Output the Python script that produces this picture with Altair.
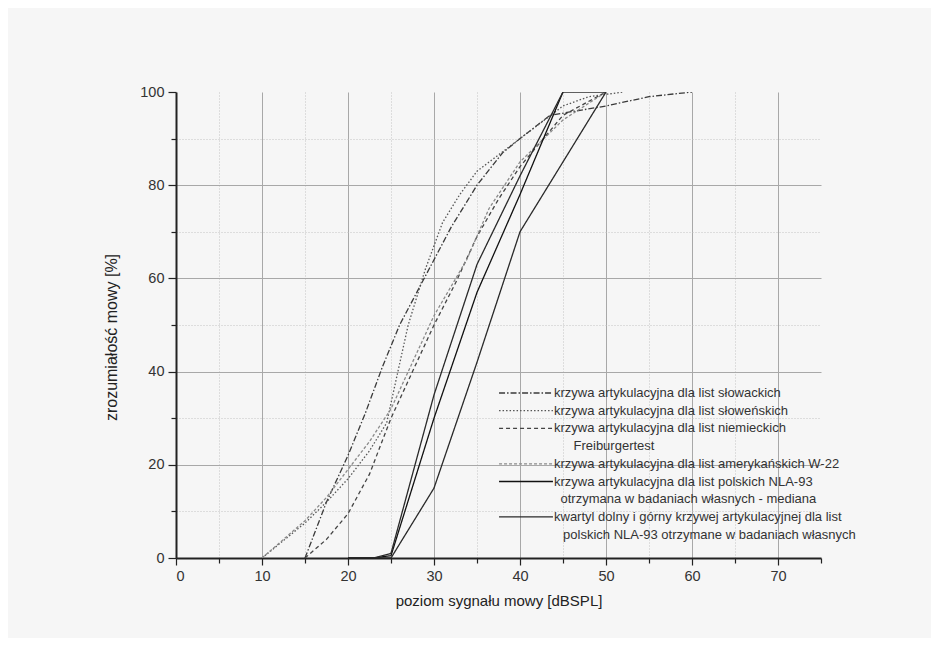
import altair as alt
import pandas as pd

# ---- data ----
legend_entries = [
    "krzywa artykulacyjna dla list słowackich",
    "krzywa artykulacyjna dla list słoweńskich",
    "krzywa artykulacyjna dla list niemieckich",
    "\u200b\u2003\u2002Freiburgertest",
    "krzywa artykulacyjna dla list amerykańskich W-22",
    "krzywa artykulacyjna dla list polskich NLA-93",
    "\u200b\u2002otrzymana w badaniach własnych - mediana",
    "kwartyl dolny i górny krzywej artykulacyjnej dla list",
    "\u200b\u2002\u2009polskich NLA-93 otrzymane w badaniach własnych",
]
# index of the legend entry that names each drawn series
series_entry = [0, 1, 2, 4, 5, 7]

slk_x = [15, 17.5, 20, 22, 24, 26, 28, 30, 32, 35, 38, 40, 43.5, 50, 55, 60]
slk_y = [0, 12, 22, 31, 41, 50, 57, 64, 71, 80, 87, 90, 95, 97, 99, 100]

svn_x = [10, 15, 17.5, 20, 22.5, 24.5, 25.8, 27, 29, 31, 33, 35, 40, 45, 48, 52]
svn_y = [0, 7.5, 12, 17, 23, 29, 40, 50, 62, 72, 78, 83, 90, 97, 99, 100]

ger_x = [15, 17.5, 20, 22.5, 25, 27.5, 30, 32.5, 35, 37.5, 40, 45, 50]
ger_y = [0, 4, 9.5, 18, 30, 40, 50, 59, 69, 77, 84, 95, 100]

usa_x = [10, 12.5, 15, 17.5, 20, 22.5, 25, 27.5, 30, 33.8, 36.4, 40, 45, 50]
usa_y = [0, 4, 8, 13, 19, 25, 32, 42, 52, 64, 75, 85, 94, 100]

pl_med_x = [20, 23, 25, 30, 35, 40, 45]
pl_med_y = [0, 0, 0.5, 30, 57, 78, 100]

pl_up_x = [20, 23, 25, 30, 35, 40, 45, 50]
pl_up_y = [0, 0, 1, 35, 63, 82, 100, 100]

pl_low_x = [20, 23, 25, 30, 35, 40, 45, 50]
pl_low_y = [0, 0, 0, 15, 42, 70, 85, 100]

x_ticks = list(range(0, 80, 5))
y_ticks = list(range(0, 110, 10))

# ---- table ----
rows = []
def add(xs, ys, s, part):
    for i, (a, b) in enumerate(zip(xs, ys)):
        rows.append({"x": a, "y": b, "series": legend_entries[series_entry[s]], "part": part, "i": i})

add(slk_x, slk_y, 0, "a")
add(svn_x, svn_y, 1, "b")
add(ger_x, ger_y, 2, "c")
add(usa_x, usa_y, 3, "d")
add(pl_med_x, pl_med_y, 4, "e")
add(pl_up_x, pl_up_y, 5, "f")
add(pl_low_x, pl_low_y, 5, "g")
df = pd.DataFrame(rows)

FONT = "Liberation Sans"

x_axis = alt.Axis(
    values=x_ticks,
    title="poziom sygnału mowy [dBSPL]",
    labelExpr="datum.value % 10 == 0 ? datum.label : ''",
    grid=True,
    gridColor={"condition": {"test": "datum.value % 10 != 0", "value": "#c4c4c4"}, "value": "#a8a8a8"},
    gridDash={"condition": {"test": "datum.value % 10 != 0", "value": [1, 2]}, "value": []},
    gridWidth=1,
    gridOpacity={"condition": {"test": "datum.value == 0 || datum.value == 75", "value": 0}, "value": 1},
    tickSize={"condition": {"test": "datum.value % 10 != 0", "value": 5}, "value": 7},
    tickColor="#222",
    tickWidth=1.2,
    domainColor="#222",
    domainWidth=1.8,
    labelFontSize=14.5,
    labelColor="#333",
    labelPadding=4,
    titleFontSize=15,
    titleFontWeight="normal",
    titleColor="#222",
    titlePadding=11,
    labelFont=FONT,
    titleFont=FONT,
)

y_axis = alt.Axis(
    values=y_ticks,
    title="zrozumiałość mowy [%]",
    labelExpr="datum.value % 20 == 0 ? datum.label : ''",
    grid=True,
    gridColor={"condition": {"test": "datum.value % 20 != 0", "value": "#c4c4c4"}, "value": "#a8a8a8"},
    gridDash={"condition": {"test": "datum.value % 20 != 0", "value": [1, 2]}, "value": []},
    gridWidth=1,
    gridOpacity={"condition": {"test": "datum.value == 0 || datum.value == 100", "value": 0}, "value": 1},
    tickSize={"condition": {"test": "datum.value % 20 != 0", "value": 5}, "value": 8},
    tickColor="#222",
    tickWidth=1.2,
    domainColor="#222",
    domainWidth=2,
    labelFontSize=14.5,
    labelColor="#333",
    labelPadding=4,
    titleFontSize=16,
    titleFontWeight="normal",
    titleColor="#222",
    titlePadding=20,
    titleY=245,
    labelFont=FONT,
    titleFont=FONT,
)

legend = alt.Legend(
    title=None,
    orient="none",
    legendX=342,
    legendY=293,
    symbolType="M-3.85,0H3.85",
    symbolSize=196,
    labelFontSize=13,
    labelFont=FONT,
    labelColor="#333",
    labelLimit=0,
    rowPadding=2.7,
    labelOffset=20,
)

T = "rgba(0,0,0,0)"
chart = (
    alt.Chart(df)
    .mark_line(clip=True)
    .encode(
        x=alt.X("x:Q", scale=alt.Scale(domain=[0, 75], nice=False), axis=x_axis),
        y=alt.Y("y:Q", scale=alt.Scale(domain=[0, 100], nice=False), axis=y_axis),
        color=alt.Color("series:N", scale=alt.Scale(domain=legend_entries,
                        range=["#3a3a3a", "#555555", "#444444", T, "#8a8a8a", "#111111", T, "#2a2a2a", T]),
                        legend=legend),
        strokeDash=alt.StrokeDash("series:N", scale=alt.Scale(domain=legend_entries,
                        range=[[6, 2, 1.5, 2], [1.5, 2], [4, 3], [1, 0], [3, 2], [1, 0], [1, 0], [1, 0], [1, 0]]),
                        legend=legend),
        strokeWidth=alt.StrokeWidth("series:N", scale=alt.Scale(domain=legend_entries,
                        range=[1.3, 1.3, 1.3, 0, 1.1, 2.0, 0, 1.3, 0]), legend=legend),
        detail="part:N",
        order="i:Q",
    )
    .properties(width=645, height=466, padding={"left": 168, "top": 84, "right": 110, "bottom": 80},
                autosize=alt.AutoSizeParams(type="none"), background="#f6f6f6")
    .configure_view(stroke=None)
)

chart.save("out.html", embed_options={"renderer": "svg", "actions": False})
